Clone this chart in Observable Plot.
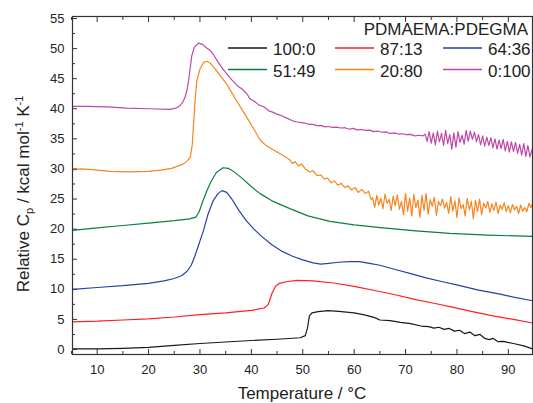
<!DOCTYPE html>
<html><head><meta charset="utf-8">
<script src="https://cdn.jsdelivr.net/npm/d3@7"></script>
<script src="https://cdn.jsdelivr.net/npm/@observablehq/plot@0.6"></script>
<style>
html,body{margin:0;padding:0;background:#fff;}
body{font-family:"Liberation Sans",Arial,sans-serif;color:#222;}
#wrap{position:relative;width:533px;height:403px;overflow:hidden;}
</style></head>
<body><div id="wrap"></div>
<script>
// ---- data ----
const seriesNames = ["100:0","87:13","64:36","51:49","20:80","0:100"];
const seriesColors = ["#1a1a1a","#ff1f1f","#2443a3","#0c7f3f","#f7841e","#bd4aa7"];
const legendTitle = "PDMAEMA:PDEGMA";
const xTicksMajor = [10,20,30,40,50,60,70,80,90];
const xTicksMinor = [5,15,25,35,45,55,65,75,85,95];
const yTicksMajor = [0,5,10,15,20,25,30,35,40,45,50,55];
const yTicksMinor = [2.5,7.5,12.5,17.5,22.5,27.5,32.5,37.5,42.5,47.5,52.5];

const blackT = [5.2,10,15,20,25,30,35,40,45,49.5,50.5,50.9,51.3,51.8,53,55,57,60,62,64,65,67,69,71,73,74.5,75.5,76.5,77.5,78.5,79.5,80.5,81.5,82.5,83.5,84.5,85.5,86.3,87,88,89,91,93,94.7];
const blackV = [0.1,0.1,0.2,0.35,0.7,1.0,1.25,1.5,1.7,1.95,2.3,3.5,5.6,6.1,6.3,6.45,6.35,6.1,5.75,5.3,4.9,4.8,4.5,4.3,3.9,3.8,3.55,3.7,3.35,3.5,3.05,3.2,2.65,2.9,2.3,2.5,1.8,1.65,1.85,1.3,1.35,1.0,0.6,0.1];

const redT = [5.2,10,15,20,25,30,35,40,42.5,43.3,44,44.7,45.5,47,49,52,56,60,64,68,72,76,79.3,83,87,91,94.7];
const redV = [4.6,4.7,4.9,5.1,5.4,5.8,6.1,6.5,6.9,7.5,9.3,10.5,11.0,11.3,11.5,11.4,11.05,10.5,9.8,9.1,8.3,7.6,7.0,6.3,5.6,5.0,4.4];

const blueT = [5.2,10,15,20,23,25,26.5,27.5,28.3,29,29.6,30.1,30.7,31.5,32.5,33.5,34.3,35.2,36.2,37.5,39,40.5,42,44,46,48,50,52,53.5,55,57,59,61,63,65,68,71,74,77,80.6,84,88.4,91,94.7];
const blueV = [10.0,10.3,10.6,11.0,11.4,11.8,12.3,13.0,14.0,15.5,17.0,18.3,19.8,22.3,24.6,25.9,26.4,26.1,25.0,23.2,21.4,20.0,18.8,17.4,16.3,15.5,14.9,14.4,14.2,14.3,14.5,14.6,14.6,14.3,14.0,13.3,12.6,11.9,11.3,10.6,9.9,9.2,8.7,8.1];

const greenT = [5.2,10,15,20,25,28,29.2,29.8,30.5,31.3,32.2,33.2,34.5,35.5,36.5,38,39.8,41.7,44,47.5,51,55.3,60,65.6,72,78.6,86,94.7];
const greenV = [19.8,20.2,20.6,21.0,21.4,21.7,22.0,22.8,24.5,26.3,28.0,29.4,30.2,30.1,29.6,28.6,27.2,25.9,24.7,23.4,22.2,21.3,20.7,20.2,19.7,19.3,19.0,18.8];

const orangeT = [5.2,6.7,9,12.5,16,20,22.3,24.5,26.7,27.5,28.1,28.5,28.8,29.1,29.4,30,30.7,31.3,32,33,34.2,35.2,37,39.1,40.5,41.7,43,44,45,46,46.8,47.5,48,48.5,49.2,49.8,50.5,51.4,52,52.8,53.5,54.2,54.8,55.5,56.2,56.8,57.5,58.2,58.8,59.5,60.2,60.8,61.5,62.2,62.8,63.3,
  63.6,64.0,64.4,64.8,65.2,65.6,66.0,66.4,66.8,67.2,67.6,68.0,68.4,68.8,69.2,69.6,70.0,70.4,70.8,71.2,71.6,72.0,72.4,72.8,73.2,73.6,74.0,74.4,74.8,75.2,75.6,76.0,76.4,76.8,77.2,77.6,78.0,78.4,78.8,79.2,79.6,80.0,80.4,80.8,81.2,81.6,82.0,82.4,82.8,83.2,83.6,84.0,84.4,84.8,85.2,85.6,86.0,86.4,86.8,87.2,87.6,88.0,88.4,88.8,89.2,89.6,90.0,90.4,90.8,91.2,91.6,92.0,92.4,92.8,93.2,93.6,94.0,94.4,94.7];
const orangeV = [29.8,30.0,29.9,29.6,29.5,29.6,29.8,30.1,30.8,31.3,31.9,34.0,38.0,42.0,44.7,46.6,47.7,47.9,47.6,46.6,45.2,44.1,41.5,38.6,36.6,34.8,33.8,33.3,32.8,32.3,31.9,31.5,30.9,31.2,30.5,30.8,30.0,29.5,29.7,28.9,29.0,28.3,28.5,27.7,28.0,27.3,27.6,26.9,27.2,26.5,26.9,26.1,26.6,25.9,26.3,24.9,
  25.2,23.6,25.6,24.0,25.1,23.4,25.8,24.3,24.9,23.1,25.5,23.9,25.7,23.3,24.6,22.4,25.9,23.0,25.2,22.2,25.8,23.6,24.8,22.0,25.6,23.1,25.9,22.5,24.9,23.8,25.3,22.3,24.6,23.9,25.0,23.5,24.4,22.6,25.4,23.0,24.7,21.9,25.2,23.4,24.1,22.2,25.1,23.2,24.6,21.7,24.8,22.9,25.0,22.4,24.3,23.5,24.6,22.8,24.2,23.1,24.5,22.6,24.0,23.3,24.4,22.9,23.9,22.7,24.1,23.2,23.8,22.6,24.0,23.0,23.6,22.9,24.3,23.6,24.2];

const magentaT = [5.2,8,12,15.8,20,24.2,25.3,26.1,26.7,27.1,27.5,27.8,28.1,28.4,28.9,29.7,30.5,31.3,32,32.7,33.5,34.3,35.2,36.2,37.3,38.2,39.1,39.8,40.5,41.5,42.5,43.5,44.3,45,46,47,48,49,49.8,50.5,51.3,52,52.7,53.5,54.3,55,55.8,56.6,57.4,58.2,59,59.8,60.6,61.4,62.2,63,63.8,64.6,65.4,66.2,67,67.8,68.6,69.4,70.2,71,71.8,72.6,73.4,
  73.8,74.2,74.6,75.0,75.4,75.8,76.2,76.6,77.0,77.4,77.8,78.2,78.6,79.0,79.4,79.8,80.2,80.6,81.0,81.4,81.8,82.2,82.6,83.0,83.4,83.8,84.2,84.6,85.0,85.4,85.8,86.2,86.6,87.0,87.4,87.8,88.2,88.6,89.0,89.4,89.8,90.2,90.6,91.0,91.4,91.8,92.2,92.6,93.0,93.4,93.8,94.2,94.7];
const magentaV = [40.4,40.4,40.3,40.1,40.0,39.9,40.1,40.5,41.2,41.9,43.2,44.7,46.8,48.8,50.2,50.9,50.7,50.1,49.7,48.9,47.8,46.8,45.8,44.8,43.8,43.3,42.5,41.6,41.3,40.6,40.3,39.6,39.4,39.1,38.8,38.4,38.0,37.8,37.7,37.6,37.4,37.4,37.2,37.25,37.0,37.05,36.9,36.95,36.8,36.85,36.6,36.75,36.5,36.55,36.4,36.45,36.2,36.3,36.1,36.15,35.9,36.0,35.8,35.85,35.7,35.75,35.5,35.6,35.5,
  35.8,34.6,36.2,34.3,36.0,34.0,36.3,34.5,35.9,33.9,36.4,34.2,35.7,33.3,36.0,33.6,36.2,34.4,35.6,34.1,36.4,34.6,36.3,34.9,36.1,34.5,35.7,34.0,35.5,33.8,35.3,33.9,35.2,33.5,35.0,33.3,34.8,33.4,34.9,33.0,34.6,32.8,34.5,32.9,34.4,32.6,34.1,32.3,34.2,32.1,33.9,32.0,33.4];

const seriesT = [blackT, redT, blueT, greenT, orangeT, magentaT];
const seriesV = [blackV, redV, blueV, greenV, orangeV, magentaV];

// ---- table built from the arrays ----
const rows = [];
seriesNames.forEach((name, i) => {
  seriesT[i].forEach((t, j) => rows.push({series: name, T: t, v: seriesV[i][j]}));
});

const axisColor = "#333";
const blank = () => "";
const chart = Plot.plot({
  width: 533, height: 403,
  marginLeft: 72, marginRight: 1, marginTop: 16, marginBottom: 49,
  style: {fontFamily: "'Liberation Sans', Arial, sans-serif", fontSize: "13px", color: "#222", background: "#fff"},
  x: {domain: [5.2, 94.7]},
  y: {domain: [-0.83, 55.33]},
  color: {domain: seriesNames, range: seriesColors},
  marks: [
    Plot.line(rows, {x: "T", y: "v", z: "series", stroke: "series", strokeWidth: 1.2}),
    Plot.axisX(xTicksMajor, {anchor: "bottom", tickSize: 0, tickPadding: 10, label: null, fontSize: 13, fill: "#222"}),
    Plot.axisX(xTicksMajor, {anchor: "bottom", tickSize: -5, tickFormat: blank, label: null, stroke: axisColor}),
    Plot.axisX(xTicksMinor, {anchor: "bottom", tickSize: -3, tickFormat: blank, label: null, stroke: axisColor}),
    Plot.axisX(xTicksMajor, {anchor: "top", tickSize: -5, tickFormat: blank, label: null, stroke: axisColor}),
    Plot.axisX(xTicksMinor, {anchor: "top", tickSize: -3, tickFormat: blank, label: null, stroke: axisColor}),
    Plot.axisY(yTicksMajor, {anchor: "left", tickSize: 0, tickPadding: 8, label: null, fontSize: 13, fill: "#222"}),
    Plot.axisY(yTicksMajor, {anchor: "left", tickSize: -5, tickFormat: blank, label: null, stroke: axisColor}),
    Plot.axisY(yTicksMinor, {anchor: "left", tickSize: -3, tickFormat: blank, label: null, stroke: axisColor}),
    Plot.frame({stroke: axisColor, strokeWidth: 1.2})
  ]
});

const svg = d3.select(chart);
// axis titles
svg.append("text")
  .attr("x", 302).attr("y", 399)
  .attr("text-anchor", "middle")
  .attr("font-size", 17).attr("fill", "#222")
  .text("Temperature / °C");
const yt = svg.append("text")
  .attr("transform", "translate(29,194) rotate(-90)")
  .attr("text-anchor", "middle")
  .attr("font-size", 17).attr("fill", "#222");
yt.append("tspan").text("Relative C");
yt.append("tspan").attr("dy", 4).attr("font-size", 11).text("p");
yt.append("tspan").attr("dy", -4).text(" / kcal mol");
yt.append("tspan").attr("dy", -6).attr("font-size", 11).text("-1");
yt.append("tspan").attr("dy", 6).text(" K");
yt.append("tspan").attr("dy", -6).attr("font-size", 11).text("-1");

// legend inside the plot, top right (layout only)
const lg = svg.append("g").attr("font-size", 17).attr("fill", "#222");
lg.append("text").attr("x", 528).attr("y", 35).attr("text-anchor", "end").text(legendTitle);
const colLeft = [228, 335, 443], rowBase = [55, 76.5], swatchLen = 39, swatchGap = 6;
seriesNames.forEach((name, i) => {
  const c = i % 3, r = Math.floor(i / 3);
  const x0 = colLeft[c], yb = rowBase[r];
  lg.append("line")
    .attr("x1", x0).attr("x2", x0 + swatchLen)
    .attr("y1", yb - 7).attr("y2", yb - 7)
    .attr("stroke", seriesColors[i]).attr("stroke-width", 1.3);
  lg.append("text").attr("x", x0 + swatchLen + swatchGap).attr("y", yb)
    .attr("text-anchor", "start").text(name);
});

document.getElementById("wrap").appendChild(chart);
</script>
</body></html>
